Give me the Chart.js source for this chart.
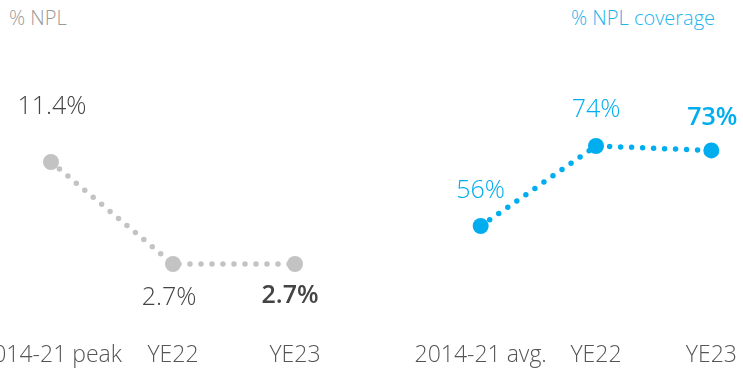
<!DOCTYPE html>
<html>
<head>
<meta charset="utf-8">
<script src="https://cdn.jsdelivr.net/npm/chart.js@4"></script>
<style>
  html, body { margin: 0; padding: 0; background: #fff; overflow: hidden; }
  body { width: 743px; height: 375px; position: relative; font-family: "Open Sans", sans-serif; }
  .head { position: absolute; top: 4px; font-size: 20px; font-weight: 300; }
  .panel { position: absolute; top: 0; height: 375px; }
</style>
</head>
<body>
<div class="head" style="left:9px;color:#9a9a9a">% NPL</div>
<div class="head" style="left:571px;color:#1eb4ee">% NPL coverage</div>
<div class="panel" style="left:-10px;width:366px"><canvas id="nplChart"></canvas></div>
<div class="panel" style="left:373px;width:396px"><canvas id="coverageChart"></canvas></div>
<script>
const nplLabels = ['2014-21 peak', 'YE22', 'YE23'];
const nplValues = [11.4, 2.7, 2.7];
const nplText = ['11.4%', '2.7%', '2.7%'];

const coverageLabels = ['2014-21 avg.', 'YE22', 'YE23'];
const coverageValues = [56, 74, 73];
const coverageText = ['56%', '74%', '73%'];

// draws the value text next to each point; last point in bold
const valueLabels = {
  id: 'valueLabels',
  afterDatasetsDraw(chart, args, opts) {
    const ctx = chart.ctx;
    const meta = chart.getDatasetMeta(0);
    ctx.save();
    ctx.textAlign = 'center';
    ctx.textBaseline = 'middle';
    meta.data.forEach((pt, i) => {
      const last = i === meta.data.length - 1;
      ctx.font = (last ? '600 ' : '300 ') + '25px "Open Sans"';
      ctx.fillStyle = opts.color;
      ctx.fillText(opts.text[i], pt.x + opts.dx[i], pt.y + opts.dy[i]);
    });
    ctx.restore();
  }
};

function makeChart(id, labels, values, text, color, yMin, yMax, labelColor, dx, dy, padLeft) {
  return new Chart(document.getElementById(id), {
    type: 'line',
    data: {
      labels: labels,
      datasets: [{
        data: values,
        borderColor: color,
        backgroundColor: color,
        borderWidth: 5.5,
        borderDash: [0, 11],
        borderCapStyle: 'round',
        pointRadius: 8,
        pointHoverRadius: 8,
        pointBorderWidth: 0,
        clip: false,
        tension: 0
      }]
    },
    options: {
      responsive: true,
      maintainAspectRatio: false,
      animation: false,
      layout: { padding: { left: padLeft }, autoPadding: false },
      plugins: {
        legend: { display: false },
        tooltip: { enabled: false },
        valueLabels: { text: text, color: labelColor, dx: dx, dy: dy }
      },
      scales: {
        x: {
          offset: true,
          border: { display: false },
          grid: { display: false, drawTicks: false },
          afterFit(scale) {
            // let the outer labels run past the plot edge
            scale.height = 45;
            scale.paddingLeft = 0;
            scale.paddingRight = 0;
          },
          ticks: {
            color: '#555',
            padding: 12,
            maxRotation: 0,
            autoSkip: false,
            font: { family: 'Open Sans', size: 23, weight: 300 }
          }
        },
        y: { display: false, min: yMin, max: yMax }
      }
    },
    plugins: [valueLabels]
  });
}

makeChart('nplChart', nplLabels, nplValues, nplText, '#c3c3c3',
  -2.93, 25.22, '#444', [1, -4, -5], [-55, 34, 32], 0);
makeChart('coverageChart', coverageLabels, coverageValues, coverageText, '#00aeef',
  32.6, 106.85, '#00aeef', [0, 0, 1], [-35, -36, -33], 50);
</script>
</body>
</html>
